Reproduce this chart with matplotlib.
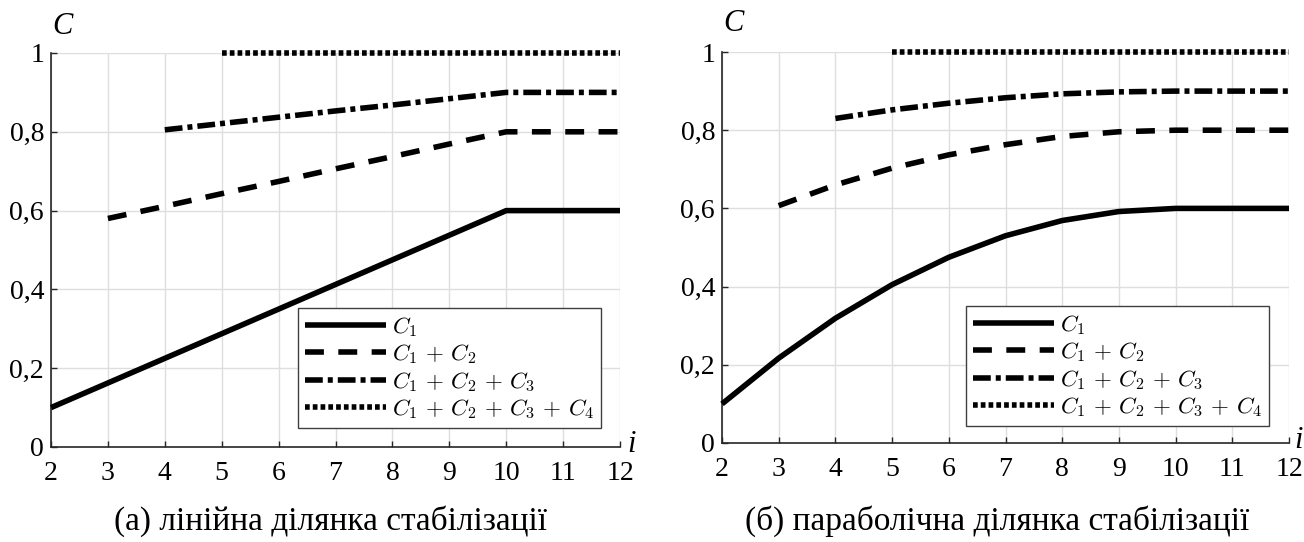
import numpy as np
import matplotlib
matplotlib.use("Agg")
import matplotlib.pyplot as plt

# ---- data ----
I_VALS = [2, 3, 4, 5, 6, 7, 8, 9, 10, 11, 12]

# (а) linear stabilisation segment
LIN_C1 = [0.1, 0.1625, 0.225, 0.2875, 0.35, 0.4125, 0.475, 0.5375, 0.6, 0.6, 0.6]
LIN_C12 = [0.58, 0.611, 0.643, 0.674, 0.706, 0.737, 0.769, 0.8, 0.8, 0.8]
LIN_C123 = [0.805, 0.821, 0.837, 0.853, 0.868, 0.884, 0.9, 0.9, 0.9]
LIN_C1234 = [1.0, 1.0, 1.0, 1.0, 1.0, 1.0, 1.0, 1.0]

# (б) parabolic stabilisation segment
PAR_C1 = [0.1, 0.217, 0.319, 0.405, 0.475, 0.53, 0.569, 0.592, 0.6, 0.6, 0.6]
PAR_C12 = [0.607, 0.66, 0.703, 0.737, 0.763, 0.784, 0.796, 0.8, 0.8, 0.8]
PAR_C123 = [0.83, 0.852, 0.869, 0.883, 0.893, 0.898, 0.9, 0.9, 0.9]
PAR_C1234 = [1.0, 1.0, 1.0, 1.0, 1.0, 1.0, 1.0, 1.0]

LABELS = [r"$C_1$", r"$C_1\,+\,C_2$", r"$C_1\,+\,C_2\,+\,C_3$",
          r"$C_1\,+\,C_2\,+\,C_3\,+\,C_4$"]
X_TICK_LABELS = [str(i) for i in I_VALS]
Y_TICKS = [0, 0.2, 0.4, 0.6, 0.8, 1.0]
Y_TICK_LABELS = ["0", "0,2", "0,4", "0,6", "0,8", "1"]
TITLES = ["(а) лінійна ділянка стабілізації",
          "(б) параболічна ділянка стабілізації"]

plt.rcParams["font.family"] = ["Liberation Serif", "DejaVu Serif"]
plt.rcParams["mathtext.fontset"] = "cm"

STYLES = [
    "-",
    (0, (3.4, 2.6)),
    (0, (3.2, 0.9, 0.9, 0.9)),
    (0, (0.85, 0.55)),
]
LW = 4.0
TICK_FS = 20


def panel(ax, series, leg_anchor, c_off, i_off):
    starts = [2, 3, 4, 5]
    for vals, st, ls, lab in zip(series, starts, STYLES, LABELS):
        ax.plot(I_VALS[st - 2:], vals, color="black", lw=LW, ls=ls,
                label=lab, clip_on=False, solid_capstyle="butt",
                dash_capstyle="butt", zorder=3)
    ax.set_xlim(2, 12)
    ax.set_ylim(0, 1)
    ax.set_xticks(I_VALS)
    ax.set_xticklabels(X_TICK_LABELS, fontsize=TICK_FS)
    ax.set_yticks(Y_TICKS)
    ax.set_yticklabels(Y_TICK_LABELS, fontsize=TICK_FS)
    ax.tick_params(direction="in", length=4, width=1, color="#262626")
    ax.tick_params(axis="x", pad=10)
    ax.tick_params(axis="y", pad=5)
    ax.grid(True, color="#dedede", lw=1)
    ax.set_axisbelow(True)
    for s in ["top", "right"]:
        ax.spines[s].set_visible(False)
    for s in ["left", "bottom"]:
        ax.spines[s].set_color("#262626")
        ax.spines[s].set_linewidth(1.2)
    leg = ax.legend(loc="lower right", bbox_to_anchor=leg_anchor,
                    borderaxespad=0, fontsize=16.6, handlelength=3.5,
                    handletextpad=0.25, borderpad=0.3, labelspacing=0.15,
                    fancybox=False, framealpha=1)
    leg.get_frame().set_edgecolor("#404040")
    leg.get_frame().set_linewidth(1.0)
    ax.annotate("C", xy=(0, 1), xycoords="axes fraction", xytext=c_off,
                textcoords="offset points", ha="center", va="center",
                fontsize=22, style="italic")
    ax.annotate("i", xy=(1, 0), xycoords="axes fraction", xytext=i_off,
                textcoords="offset points", ha="center", va="center",
                fontsize=22, style="italic")


fig = plt.figure(figsize=(13.04, 5.42), dpi=100)
ax1 = fig.add_axes([51 / 1304, 1 - 447 / 542, 569 / 1304, 394 / 542])
ax2 = fig.add_axes([722 / 1304, 1 - 443 / 542, 567 / 1304, 391 / 542])

panel(ax1, [LIN_C1, LIN_C12, LIN_C123, LIN_C1234],
      (1 - 19 / 569, 19 / 394), (8, 19), (8.6, 2))
panel(ax2, [PAR_C1, PAR_C12, PAR_C123, PAR_C1234],
      (1 - 20 / 567, 17 / 391), (8, 20.5), (7, 2))

fig.text(331 / 1304, 1 - 521 / 542, TITLES[0], ha="center", va="center",
         fontsize=24)
fig.text(997 / 1304, 1 - 521 / 542, TITLES[1], ha="center", va="center",
         fontsize=24)

fig.savefig("out.png", dpi=100)
